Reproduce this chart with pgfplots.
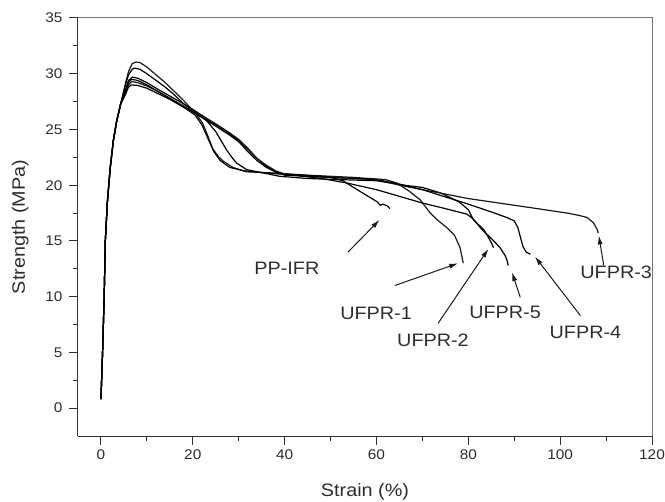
\documentclass[border=0pt]{standalone}
\usepackage{fontspec}
\setmainfont[FakeStretch=1.1]{Liberation Sans}
\usepackage{pgfplots}
\pgfplotsset{compat=1.18}
\usetikzlibrary{arrows.meta}
\definecolor{crv}{RGB}{25,25,25}
\definecolor{txt}{RGB}{45,45,45}
\begin{document}
\begin{tikzpicture}
\begin{axis}[
  scale only axis, width=574bp, height=418bp,
  at={(0,0)}, anchor=south west,
  xmin=-5, xmax=120, ymin=-2.5, ymax=35,
  axis lines=left, axis line style={-, line width=1bp, color=black!80},
  xtick={0,20,...,120}, ytick={0,5,...,35},
  minor x tick num=1, minor y tick num=1,
  tick align=outside, major tick length=9bp, minor tick length=5bp,
  tick style={line width=1bp, color=black!80},
  /pgf/number format/assume math mode=true,
  ticklabel style={font=\fontsize{14bp}{16bp}\selectfont, text=txt},
  xticklabel style={anchor=north, yshift=-1bp},
  yticklabel style={anchor=east, xshift=-3bp},
  xlabel={Strain (\%)}, ylabel={Strength (MPa)},
  label style={font=\fontsize{18bp}{20bp}\selectfont, text=txt},
  xlabel style={at={([yshift=-60.7bp]rel axis cs:0.5,0)}, anchor=base},
  ylabel style={at={([xshift=-53bp]rel axis cs:0,0.5)}, anchor=base},
  cycle list={{crv, solid, mark=none}},
  every axis plot post/.append style={line width=1.2bp, line join=round},
  clip=false,
]
% UFPR-1
\addplot coordinates {(0,0.8)(0.35,5)(0.7,10)(0.95,15)(1.4,18.5)(2.0,21.5)(2.7,24)(3.4,25.7)(4.3,27.3)
(5.2,28.9)(6.0,30.2)(6.8,30.9)(7.6,31.05)(8.5,31.0)(10,30.6)(12,29.9)(14,29.2)(16,28.4)(18,27.6)(20.5,26.5)(22.1,25.6)(23.3,24.4)(24.3,23.3)(25.5,22.6)(26.5,22.2)(28.7,21.6)(31.7,21.2)(37.4,21.1)(45,20.9)(55,20.7)(62,20.5)(64.4,20.2)(67,19.5)(69.5,18.7)(71.7,17.5)(73.5,16.8)(75.3,16.2)(77,15.5)(78.2,14.4)(78.9,13.0)};
% UFPR-2
\addplot coordinates {(0,0.8)(0.35,5)(0.7,10)(0.95,15)(1.4,18.5)(2.0,21.5)(2.7,24)(3.4,25.7)(4.3,27.3)
(5.2,28.8)(6.0,29.9)(6.8,30.4)(7.3,30.5)(8.5,30.4)(10,30.0)(12,29.4)(14,28.8)(16,28.1)(18,27.3)(21,26.4)(23,25.8)(25,24.8)(26.3,23.9)(27.3,23.2)(28.5,22.5)(29.5,22.0)(31.7,21.4)(35.3,21.1)(38.9,20.8)(45,20.6)(52,20.5)(60,20.4)(66,20.0)(70,19.8)(74,19.3)(78,18.5)(80,17.8)(81.1,16.9)(83.4,16.0)(84.8,15.0)(85.5,14.4)};
% PP-IFR
\addplot coordinates {(0,0.8)(0.35,5)(0.7,10)(0.95,15)(1.4,18.5)(2.0,21.5)(2.7,24)(3.4,25.7)(4.3,27.3)
(5.2,28.4)(6.0,29.4)(6.9,29.7)(8,29.6)(10,29.2)(12,28.7)(15,28.0)(18,27.3)(20,26.8)(23,26.0)(25,25.5)(28,24.7)(30,24.1)(32,23.3)(34,22.4)(36,21.7)(38,21.2)(40,21.0)(44,20.9)(48,20.8)(50,20.7)(52.7,20.4)(55,19.8)(57,19.3)(59,18.8)(60.2,18.5)(60.8,18.2)(61.5,18.3)(62.5,18.1)(62.9,17.9)};
% UFPR-3
\addplot coordinates {(0,0.8)(0.35,5)(0.7,10)(0.95,15)(1.4,18.5)(2.0,21.5)(2.7,24)(3.4,25.7)(4.3,27.3)
(5.2,28.2)(6.0,29.0)(6.7,29.3)(8,29.2)(10,28.9)(12,28.5)(15,27.8)(18,27.1)(20,26.6)(23,25.9)(25,25.4)(28,24.6)(30,24.0)(32,23.2)(34,22.4)(36,21.8)(38,21.3)(40,21.0)(45,20.8)(50,20.7)(55,20.6)(60,20.5)(65,20.0)(70,19.6)(73.8,19.3)(80,18.8)(90,18.2)(95,17.9)(101.5,17.5)(104,17.3)(105.9,17.1)(107.3,16.6)(108.1,16.0)(108.3,15.7)};
% UFPR-4
\addplot coordinates {(0,0.8)(0.35,5)(0.7,10)(0.95,15)(1.4,18.5)(2.0,21.5)(2.7,24)(3.4,25.7)(4.3,27.3)
(5.2,28.0)(6.0,28.8)(6.6,29.0)(8,28.95)(10,28.7)(12,28.3)(15,27.7)(18,27.0)(20,26.6)(23,25.8)(25,25.3)(28,24.5)(30,23.9)(32,23.0)(34,22.2)(36,21.6)(38,21.2)(40,20.9)(45,20.8)(50,20.7)(55,20.6)(60,20.5)(65,20.1)(70,19.6)(73.8,19.1)(80,18.3)(85,17.6)(88.4,17.1)(90,16.8)(90.8,16.2)(91.3,15.4)(91.9,14.5)(92.6,14.0)(93.5,13.8)};
% UFPR-5
\addplot coordinates {(0,0.8)(0.35,5)(0.7,10)(0.95,15)(1.4,18.5)(2.0,21.5)(2.7,24)(3.4,25.7)(4.3,27.3)
(5.2,28.3)(6.0,29.2)(6.6,29.5)(8,29.4)(10,29.0)(12,28.5)(15,27.8)(18,27.0)(20.5,26.3)(22,25.4)(23.5,24.0)(24.6,23.0)(26,22.2)(28,21.6)(31,21.3)(36,21.1)(42,20.9)(48,20.6)(53.5,20.2)(60,19.6)(65,19.0)(70,18.4)(75,17.9)(79.7,17.4)(81,17.0)(82,16.5)(83,16.0)(84.8,15.3)(86,14.8)(86.9,14.4)(88,13.7)(88.4,13.3)(88.7,12.8)};
% frame top/right
\draw[line width=1bp, color=black!55] (rel axis cs:0,1) -- (rel axis cs:1,1) -- (rel axis cs:1,0);
% annotations
\begin{scope}[line width=1bp, color=crv, -{Latex[length=9bp,width=5bp]}]
\draw (axis cs:53.8,14.0) -- (axis cs:60.7,16.9);
\draw (axis cs:64.0,11.0) -- (axis cs:77.8,13.0);
\draw (axis cs:73.4,7.6) -- (axis cs:84.4,14.3);
\draw (axis cs:91.3,9.95) -- (axis cs:89.5,12.2);
\draw (axis cs:104.4,8.3) -- (axis cs:94.5,13.6);
\draw (axis cs:109.5,12.8) -- (axis cs:108.4,15.5);
\end{scope}
\begin{scope}[every node/.style={font=\fontsize{18bp}{20bp}\selectfont, text=txt, inner sep=0pt}]
\node at (axis cs:40.5,12.5) {PP-IFR};
\node at (axis cs:59.9,8.5) {UFPR-1};
\node at (axis cs:72.3,6.1) {UFPR-2};
\node at (axis cs:88.0,8.6) {UFPR-5};
\node at (axis cs:105.5,6.8) {UFPR-4};
\node at (axis cs:112.2,12.2) {UFPR-3};
\end{scope}
\end{axis}
\pgfresetboundingbox
\path[use as bounding box] (-78bp,-66bp) rectangle (587bp,436bp);
\end{tikzpicture}
\end{document}
